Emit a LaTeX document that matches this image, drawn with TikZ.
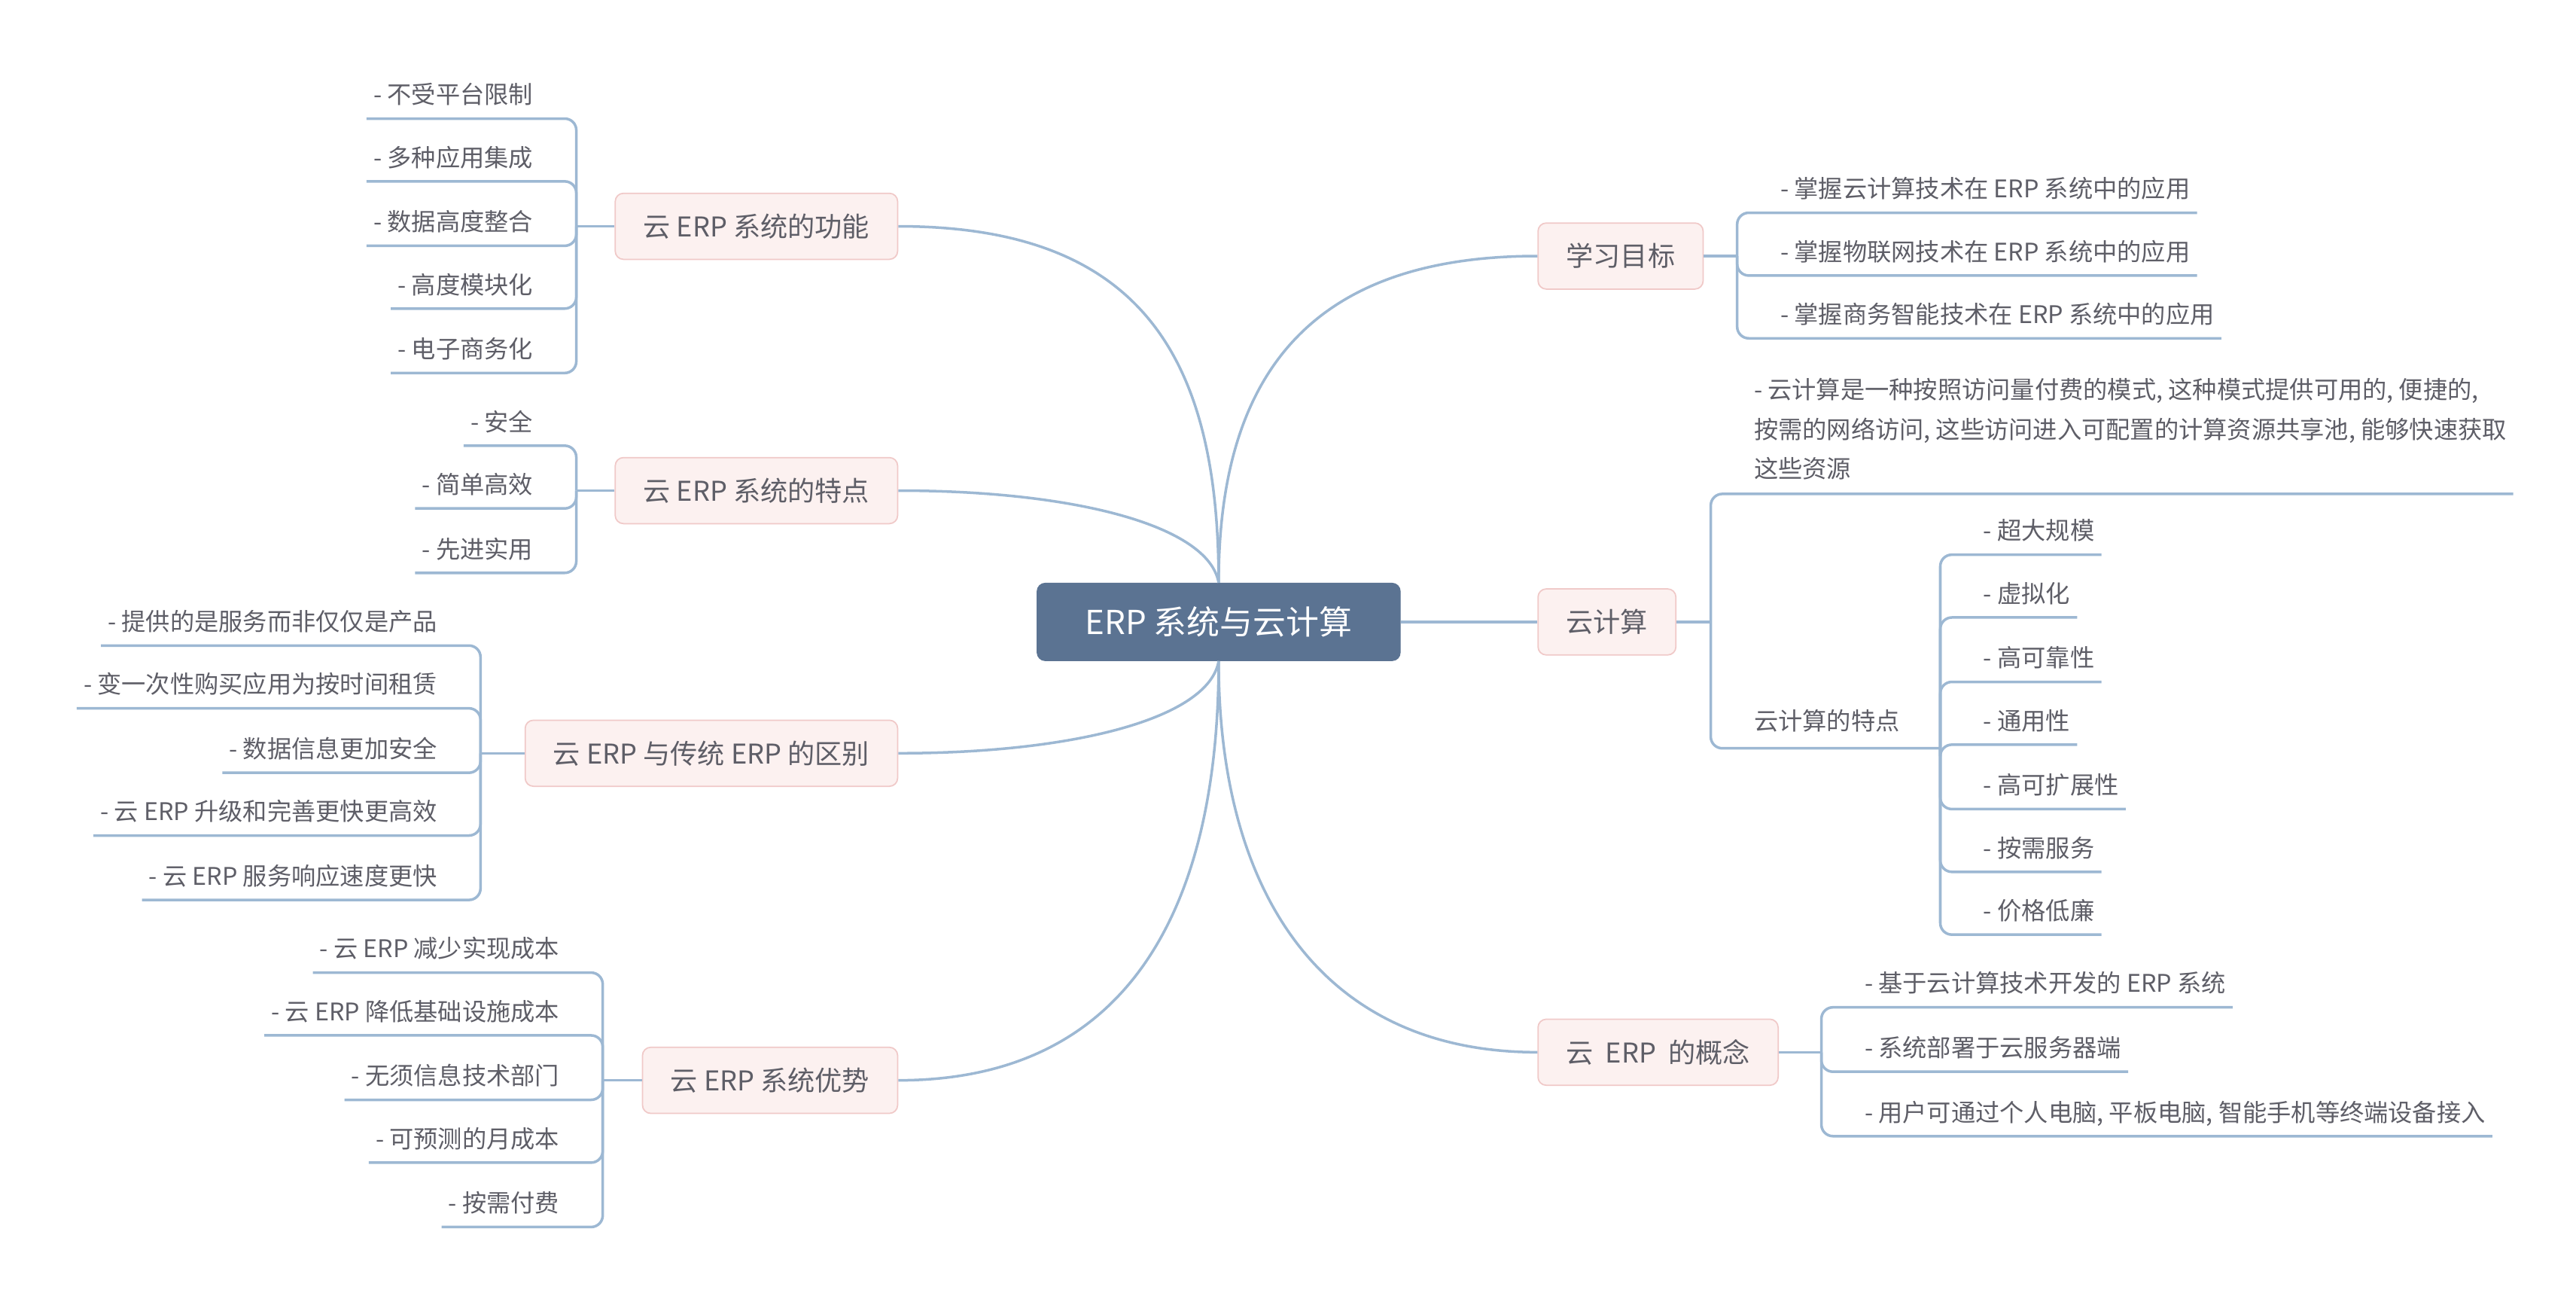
\documentclass[tikz,border=0pt]{standalone}
\usepackage{fontspec}
\setmainfont{Noto Sans CJK SC}
\usetikzlibrary{positioning}
\definecolor{rootfill}{HTML}{5B7392}
\definecolor{topicfill}{HTML}{FCF1F0}
\definecolor{topicdraw}{HTML}{F0C9C8}
\definecolor{linkcol}{HTML}{9DB8D3}
\definecolor{txtgray}{HTML}{5E5E67}

\begin{document}
\begin{tikzpicture}[x=1pt,y=-1pt,
  root/.style={draw=rootfill,fill=rootfill,rounded corners=5pt,text=white,minimum width=220pt,minimum height=47pt,font=\fontsize{20}{24}\selectfont},
  topic/.style={draw=topicdraw,fill=topicfill,rounded corners=5pt,line width=0.8pt,text=txtgray,inner xsep=17pt,minimum height=40pt,font=\fontsize{16.5}{20}\selectfont},
  leaf/.style={text=txtgray,inner xsep=4pt,inner ysep=7.6pt,text height=0.88em,text depth=0.12em,font=\fontsize{14.7}{18}\selectfont},
  link/.style={draw=linkcol,line width=1.6pt},
  fork/.style={draw=linkcol,line width=1.6pt,rounded corners=7pt}]
\useasboundingbox (0,0) rectangle (1560,787.8);

\node[root] (erp) at (738,376.5) {ERP 系统与云计算};

\node[topic,anchor=west] (goal) at (931,155) {学习目标};
\node[topic,anchor=west] (cloud) at (931,376.5) {云计算};
\node[topic,anchor=west] (concept) at (931,637) {云~~ERP~~的概念};
\node[topic,anchor=east] (func) at (544,137) {云 ERP 系统的功能};
\node[topic,anchor=east] (trait) at (544,297) {云 ERP 系统的特点};
\node[topic,anchor=east] (diff) at (544,456) {云 ERP 与传统 ERP 的区别};
\node[topic,anchor=east] (adv) at (544,654) {云 ERP 系统优势};

\draw[link] (erp.north) .. controls (738,220) and (800,155) .. (goal.west);
\draw[link] (erp.east) -- (cloud.west);
\draw[link] (erp.south) .. controls (738,540) and (800,637) .. (concept.west);
\draw[link] (erp.north) .. controls (738,215) and (690,137) .. (func.east);
\draw[link] (erp.north) .. controls (732,318) and (650,297) .. (trait.east);
\draw[link] (erp.south) .. controls (732,435) and (650,456) .. (diff.east);
\draw[link] (erp.south) .. controls (738,540) and (690,654) .. (adv.east);

% right side
\coordinate (goalj) at (1052,155);
\node[leaf,anchor=west] (g1) at (1074,116) {- 掌握云计算技术在 ERP 系统中的应用};
\node[leaf,anchor=west] (g2) at (1074,154) {- 掌握物联网技术在 ERP 系统中的应用};
\node[leaf,anchor=west] (g3) at (1074,192) {- 掌握商务智能技术在 ERP 系统中的应用};
\draw[link] (goal.east) -- (goalj);
\foreach \n in {g1,g2,g3} \draw[fork] (goalj) |- (\n.south east);

\coordinate (cloudj) at (1036,376.5);
\node[anchor=north west,text=txtgray,inner sep=0pt,align=left,font=\fontsize{14.7}{24}\selectfont] (def) at (1062,228.8)
  {- 云计算是一种按照访问量付费的模式, 这种模式提供可用的, 便捷的,\\按需的网络访问, 这些访问进入可配置的计算资源共享池, 能够快速获取\\这些资源};
\coordinate (defend) at (1522,299);
\node[leaf,anchor=west] (feat) at (1058,438) {云计算的特点};
\coordinate (featj) at (1175,453);
\draw[link] (cloud.east) -- (cloudj);
\draw[fork] (cloudj) |- (defend);
\draw[fork] (cloudj) |- (featj);
\node[leaf,anchor=west] (f1) at (1197,323) {- 超大规模};
\node[leaf,anchor=west] (f2) at (1197,361) {- 虚拟化};
\node[leaf,anchor=west] (f3) at (1197,400) {- 高可靠性};
\node[leaf,anchor=west] (f4) at (1197,438) {- 通用性};
\node[leaf,anchor=west] (f5) at (1197,477) {- 高可扩展性};
\node[leaf,anchor=west] (f6) at (1197,515) {- 按需服务};
\node[leaf,anchor=west] (f7) at (1197,553) {- 价格低廉};
\foreach \n in {f1,f2,f3,f4,f5,f6,f7} \draw[fork] (featj) |- (\n.south east);

\coordinate (conceptj) at (1103,637);
\node[leaf,anchor=west] (c1) at (1125,597) {- 基于云计算技术开发的 ERP 系统};
\node[leaf,anchor=west] (c2) at (1125,636) {- 系统部署于云服务器端};
\node[leaf,anchor=west] (c3) at (1125,675) {- 用户可通过个人电脑, 平板电脑, 智能手机等终端设备接入};
\draw[link] (concept.east) -- (conceptj);
\foreach \n in {c1,c2,c3} \draw[fork] (conceptj) |- (\n.south east);

% left side
\coordinate (funcj) at (349,137);
\node[leaf,anchor=east] (u1) at (327,59) {- 不受平台限制};
\node[leaf,anchor=east] (u2) at (327,97) {- 多种应用集成};
\node[leaf,anchor=east] (u3) at (327,136) {- 数据高度整合};
\node[leaf,anchor=east] (u4) at (327,174) {- 高度模块化};
\node[leaf,anchor=east] (u5) at (327,213) {- 电子商务化};
\draw[link] (func.west) -- (funcj);
\foreach \n in {u1,u2,u3,u4,u5} \draw[fork] (funcj) |- (\n.south west);

\coordinate (traitj) at (349,297);
\node[leaf,anchor=east] (t1) at (327,257) {- 安全};
\node[leaf,anchor=east] (t2) at (327,295) {- 简单高效};
\node[leaf,anchor=east] (t3) at (327,334) {- 先进实用};
\draw[link] (trait.west) -- (traitj);
\foreach \n in {t1,t2,t3} \draw[fork] (traitj) |- (\n.south west);

\coordinate (diffj) at (291,456);
\node[leaf,anchor=east] (d1) at (269,378) {- 提供的是服务而非仅仅是产品};
\node[leaf,anchor=east] (d2) at (269,416) {- 变一次性购买应用为按时间租赁};
\node[leaf,anchor=east] (d3) at (269,455) {- 数据信息更加安全};
\node[leaf,anchor=east] (d4) at (269,493) {- 云 ERP 升级和完善更快更高效};
\node[leaf,anchor=east] (d5) at (269,532) {- 云 ERP 服务响应速度更快};
\draw[link] (diff.west) -- (diffj);
\foreach \n in {d1,d2,d3,d4,d5} \draw[fork] (diffj) |- (\n.south west);

\coordinate (advj) at (365,654);
\node[leaf,anchor=east] (a1) at (343,576) {- 云 ERP 减少实现成本};
\node[leaf,anchor=east] (a2) at (343,614) {- 云 ERP 降低基础设施成本};
\node[leaf,anchor=east] (a3) at (343,653) {- 无须信息技术部门};
\node[leaf,anchor=east] (a4) at (343,691) {- 可预测的月成本};
\node[leaf,anchor=east] (a5) at (343,730) {- 按需付费};
\draw[link] (adv.west) -- (advj);
\foreach \n in {a1,a2,a3,a4,a5} \draw[fork] (advj) |- (\n.south west);
\end{tikzpicture}
\end{document}
